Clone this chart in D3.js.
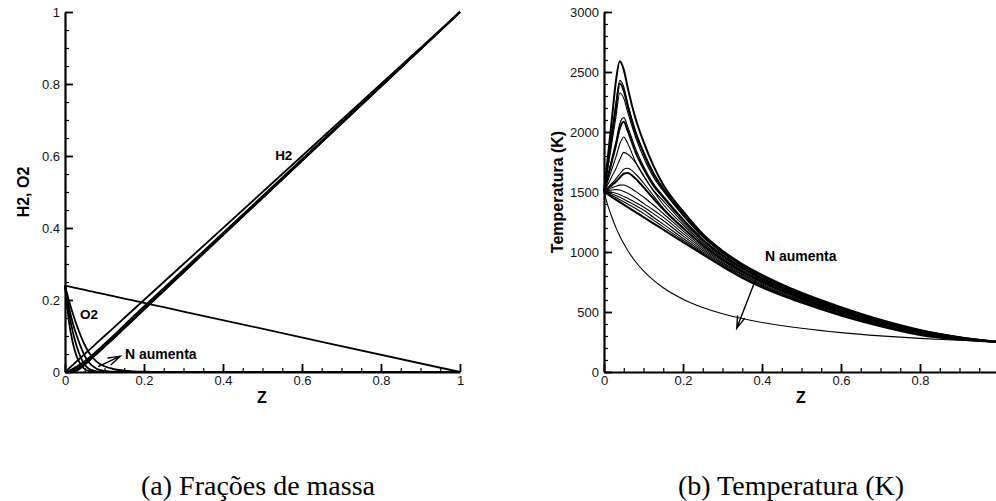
<!DOCTYPE html>
<html>
<head>
<meta charset="utf-8">
<script src="https://cdn.jsdelivr.net/npm/d3@7"></script>
<style>
  body { margin: 0; background: #fff; }
  svg { display: block; font-family: "Liberation Sans", Arial, sans-serif; }
</style>
</head>
<body>
<div id="chart"></div>
<script>
// ---- (a) mass fractions, sampled on a shared Z grid ----
const zA = [0, 0.01, 0.02, 0.03, 0.04, 0.05, 0.06, 0.08, 0.1, 0.12, 0.15, 0.2, 0.25, 0.3, 1];
const h2Mix = [0, 0.01, 0.02, 0.03, 0.04, 0.05, 0.06, 0.08, 0.1, 0.12, 0.15, 0.2, 0.25, 0.3, 1];
const h2N1 = [0, 0.004, 0.009, 0.015, 0.022, 0.030, 0.039, 0.058, 0.078, 0.098, 0.13, 0.182, 0.233, 0.284, 1];
const h2N2 = [0, 0.002, 0.006, 0.012, 0.019, 0.027, 0.036, 0.055, 0.074, 0.094, 0.124, 0.176, 0.228, 0.279, 1];
const h2N3 = [0, 0.001, 0.003, 0.007, 0.014, 0.022, 0.031, 0.051, 0.071, 0.091, 0.122, 0.174, 0.226, 0.277, 1];
const h2N4 = [0, 0, 0.001, 0.004, 0.011, 0.02, 0.03, 0.05, 0.07, 0.09, 0.121, 0.173, 0.225, 0.277, 1];
const o2Mix = [0.24, 0.2376, 0.2352, 0.2328, 0.2304, 0.228, 0.2256, 0.2208, 0.216, 0.2112, 0.204, 0.192, 0.18, 0.168, 0];
const o2N1 = [0.24, 0.198, 0.162, 0.129, 0.1, 0.075, 0.055, 0.029, 0.016, 0.009, 0.004, 0.001, 0.0003, 0, 0];
const o2N2 = [0.24, 0.18, 0.135, 0.1, 0.07, 0.045, 0.027, 0.009, 0.003, 0.001, 0, 0, 0, 0, 0];
const o2N3 = [0.24, 0.165, 0.11, 0.07, 0.04, 0.02, 0.009, 0.002, 0, 0, 0, 0, 0, 0, 0];
const o2N4 = [0.24, 0.14, 0.08, 0.042, 0.02, 0.008, 0.003, 0, 0, 0, 0, 0, 0, 0, 0];

const fracTicks = [0, 0.2, 0.4, 0.6, 0.8, 1];
const fracTickLabels = ["0", "0.2", "0.4", "0.6", "0.8", "1"];

// ---- (b) temperature (K) ----
const zB = [0, 0.01, 0.02, 0.03, 0.04, 0.05, 0.06, 0.08, 0.1, 0.125, 0.15, 0.2, 0.25, 0.3, 0.35, 0.4, 0.5, 0.6, 0.7, 0.8, 0.9, 1];
const tMix = [1500, 1385, 1290, 1205, 1132, 1070, 1013, 919, 842, 765, 702, 607, 538, 486, 446, 413, 364, 328, 301, 280, 264, 250];
const t1 = [1500, 1800, 2110, 2420, 2590, 2520, 2370, 2110, 1920, 1720, 1560, 1340, 1150, 1010, 900, 810, 660, 540, 435, 350, 290, 250];
const t2 = [1500, 1750, 2000, 2240, 2430, 2375, 2240, 2010, 1840, 1665, 1534, 1322, 1138, 1001, 892, 803, 654, 535, 431, 347, 289, 250];
const t3 = [1500, 1735, 1965, 2200, 2405, 2345, 2215, 1990, 1825, 1650, 1523, 1314, 1133, 997, 889, 800, 652, 533, 430, 346, 288, 250];
const t4 = [1500, 1705, 1915, 2120, 2325, 2280, 2165, 1955, 1790, 1625, 1508, 1304, 1126, 992, 884, 795, 649, 530, 427, 344, 287, 250];
const t5 = [1500, 1640, 1780, 1915, 2070, 2120, 2045, 1860, 1715, 1570, 1467, 1276, 1108, 977, 871, 784, 640, 522, 421, 340, 285, 250];
const t6 = [1500, 1628, 1757, 1885, 2030, 2085, 2010, 1830, 1695, 1555, 1456, 1268, 1102, 973, 868, 781, 637, 520, 420, 338, 284, 250];
const t7 = [1500, 1596, 1692, 1788, 1900, 1958, 1905, 1750, 1633, 1515, 1426, 1247, 1089, 962, 859, 772, 630, 515, 415, 335, 283, 250];
const t8 = [1500, 1564, 1629, 1693, 1770, 1830, 1815, 1745, 1640, 1510, 1396, 1227, 1075, 952, 849, 764, 624, 509, 411, 332, 281, 250];
const t9 = [1500, 1536, 1573, 1609, 1650, 1690, 1698, 1650, 1575, 1470, 1366, 1206, 1062, 941, 840, 755, 617, 504, 406, 328, 280, 250];
const t10 = [1500, 1529, 1557, 1586, 1620, 1652, 1658, 1610, 1540, 1445, 1355, 1199, 1057, 937, 837, 752, 615, 502, 405, 327, 279, 250];
const t11 = [1500, 1518, 1535, 1548, 1557, 1558, 1545, 1505, 1458, 1392, 1321, 1176, 1041, 926, 826, 743, 608, 495, 400, 323, 277, 250];
const t12 = [1500, 1510, 1517, 1520, 1516, 1505, 1490, 1450, 1405, 1350, 1291, 1155, 1028, 915, 817, 734, 601, 490, 395, 320, 276, 250];
const t13 = [1500, 1502, 1498, 1490, 1478, 1463, 1447, 1412, 1375, 1320, 1262, 1134, 1014, 904, 808, 726, 594, 484, 391, 316, 274, 250];
const t14 = [1500, 1494, 1484, 1471, 1456, 1440, 1423, 1388, 1350, 1290, 1232, 1114, 1000, 894, 799, 718, 588, 478, 387, 313, 272, 250];
const t15 = [1500, 1487, 1471, 1454, 1436, 1418, 1400, 1362, 1322, 1266, 1209, 1098, 990, 886, 792, 711, 583, 474, 383, 311, 271, 250];
const t16 = [1500, 1479, 1458, 1437, 1416, 1395, 1374, 1332, 1291, 1239, 1187, 1083, 980, 878, 785, 705, 578, 470, 380, 308, 270, 250];

const zTicksB = [0, 0.2, 0.4, 0.6, 0.8];
const zTickLabelsB = ["0", "0.2", "0.4", "0.6", "0.8"];
const tempTicks = [0, 500, 1000, 1500, 2000, 2500, 3000];

const width = 996, height = 501;
const svg = d3.select("#chart").append("svg")
  .attr("width", width).attr("height", height);

// axes with inward ticks + minor ticks
function drawAxes(g, x, y, xTicks, xLabels, xMinor, yTicks, yLabels, yMinor) {
  const h = y.range()[0], left = x.range()[0];
  const minX = g.append("g").attr("transform", `translate(0,${h})`)
    .call(d3.axisBottom(x).tickValues(xMinor).tickSize(-4).tickSizeOuter(0).tickFormat(""));
  minX.select(".domain").remove();
  const minY = g.append("g").attr("transform", `translate(${left},0)`)
    .call(d3.axisLeft(y).tickValues(yMinor).tickSize(-4).tickSizeOuter(0).tickFormat(""));
  minY.select(".domain").remove();
  [minX, minY].forEach(a => a.selectAll("line").attr("stroke-width", 1.2));

  const ax = g.append("g").attr("transform", `translate(0,${h})`)
    .call(d3.axisBottom(x).tickValues(xTicks).tickSize(-8).tickSizeOuter(0).tickPadding(4)
      .tickFormat((d, i) => xLabels[i]));
  const ay = g.append("g").attr("transform", `translate(${left},0)`)
    .call(d3.axisLeft(y).tickValues(yTicks).tickSize(-8).tickSizeOuter(0).tickPadding(5)
      .tickFormat((d, i) => yLabels[i]));
  [ax, ay].forEach(a => {
    a.attr("font-family", null).attr("font-size", 13);
    a.selectAll("text").attr("fill", "#111");
    a.selectAll(".tick line").attr("stroke-width", 1.8);
    a.select(".domain").attr("stroke-width", 2.2);
  });
}

function arrow(g, x0, y0, x1, y1) {
  const ang = Math.atan2(y1 - y0, x1 - x0);
  const len = 13, spread = 0.3;
  const path = d3.path();
  path.moveTo(x0, y0); path.lineTo(x1, y1);
  path.moveTo(x1 - len * Math.cos(ang - spread), y1 - len * Math.sin(ang - spread));
  path.lineTo(x1, y1);
  path.lineTo(x1 - len * Math.cos(ang + spread), y1 - len * Math.sin(ang + spread));
  g.append("path").attr("d", path.toString())
    .attr("fill", "none").attr("stroke", "#000").attr("stroke-width", 1.4);
}

// ---------- panel (a) ----------
{
  const x = d3.scaleLinear().domain([0, 1]).range([65, 460]);
  const y = d3.scaleLinear().domain([0, 1]).range([372, 12]);
  const g = svg.append("g");
  const line = d3.line().x(d => x(d[0])).y(d => y(d[1])).curve(d3.curveMonotoneX);

  [o2Mix, o2N1, o2N2, o2N3, o2N4, h2Mix, h2N1, h2N2, h2N3, h2N4].forEach(s => {
    g.append("path").datum(d3.zip(zA, s)).attr("d", line)
      .attr("fill", "none").attr("stroke", "#000").attr("stroke-width", 1.8)
      .attr("stroke-linejoin", "round");
  });

  drawAxes(g, x, y, fracTicks, fracTickLabels, d3.range(0, 1.001, 0.05),
    fracTicks, fracTickLabels, d3.range(0, 1.001, 0.05));

  g.append("text").attr("x", x(0.532)).attr("y", y(0.59))
    .attr("font-size", 13.5).attr("font-weight", "bold").text("H2");
  g.append("text").attr("x", x(0.038)).attr("y", y(0.148))
    .attr("font-size", 13.5).attr("font-weight", "bold").text("O2");
  g.append("text").attr("x", x(0.152)).attr("y", y(0.037))
    .attr("font-size", 14).attr("font-weight", "bold").text("N aumenta");
  arrow(g, x(0.084), y(0.015), x(0.14), y(0.044));

  g.append("text").attr("x", 262).attr("y", 403).attr("text-anchor", "middle")
    .attr("font-size", 16).attr("font-weight", "bold").text("Z");
  g.append("text").attr("transform", "translate(23,192) rotate(-90)")
    .attr("dy", "0.35em").attr("text-anchor", "middle")
    .attr("font-size", 16).attr("font-weight", "bold").text("H2, O2");
  g.append("text").attr("x", 258).attr("y", 495).attr("text-anchor", "middle")
    .attr("font-family", "'Liberation Serif', 'Times New Roman', serif")
    .attr("font-size", 28).text("(a) Frações de massa");
}

// ---------- panel (b) ----------
{
  const x = d3.scaleLinear().domain([0, 1]).range([604, 999]);
  const y = d3.scaleLinear().domain([0, 3000]).range([372, 12]);
  const g = svg.append("g");
  const line = d3.line().x(d => x(d[0])).y(d => y(d[1])).curve(d3.curveMonotoneX);

  const series = [t1, t2, t3, t4, t5, t6, t7, t8, t9, t10, t11, t12, t13, t14, t15, t16, tMix];
  const thick = new Set([0, 2, 5, 9, 15]);
  series.forEach((s, i) => {
    g.append("path").datum(d3.zip(zB, s)).attr("d", line)
      .attr("fill", "none").attr("stroke", "#000")
      .attr("stroke-width", thick.has(i) ? 2 : 1.1)
      .attr("stroke-linejoin", "round");
  });

  drawAxes(g, x, y, zTicksB, zTickLabelsB, d3.range(0, 0.951, 0.05),
    tempTicks, tempTicks.map(String), d3.range(0, 3001, 100));

  g.append("text").attr("x", 765).attr("y", 261)
    .attr("font-size", 14).attr("font-weight", "bold").text("N aumenta");
  arrow(g, x(0.39), y(822), x(0.336), y(364));

  g.append("text").attr("x", 801).attr("y", 403).attr("text-anchor", "middle")
    .attr("font-size", 16).attr("font-weight", "bold").text("Z");
  g.append("text").attr("transform", "translate(557,192) rotate(-90)")
    .attr("dy", "0.35em").attr("text-anchor", "middle")
    .attr("font-size", 16).attr("font-weight", "bold").text("Temperatura (K)");
  g.append("text").attr("x", 791).attr("y", 495).attr("text-anchor", "middle")
    .attr("font-family", "'Liberation Serif', 'Times New Roman', serif")
    .attr("font-size", 28).text("(b) Temperatura (K)");
}
</script>
</body>
</html>
